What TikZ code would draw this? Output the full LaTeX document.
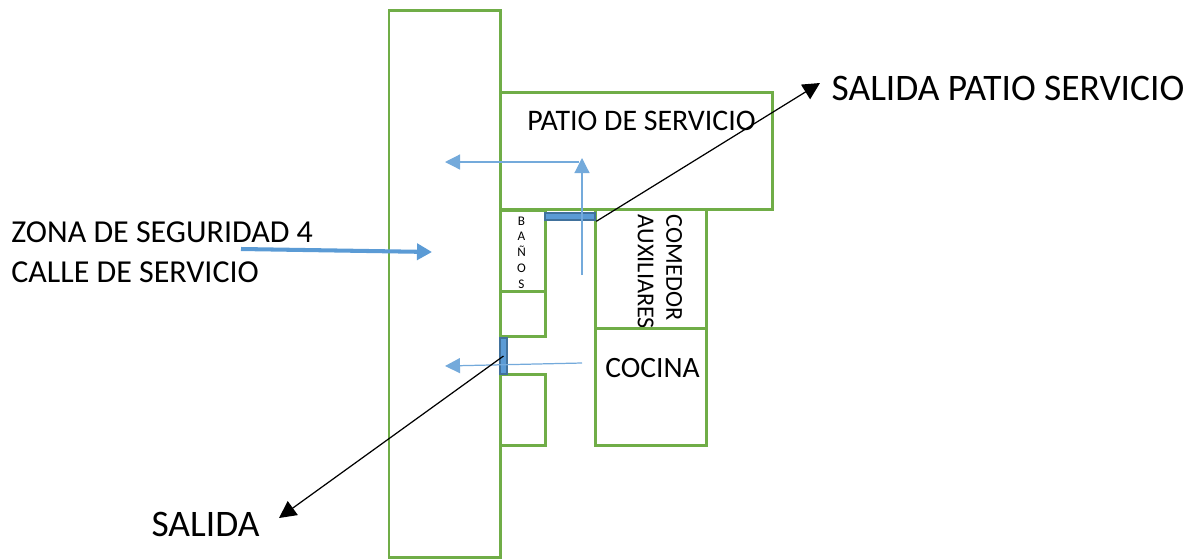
\documentclass[tikz,border=0pt]{standalone}
\usepackage{fontspec}
\setmainfont{Carlito}
\usetikzlibrary{positioning,arrows.meta}

\definecolor{zonagreen}{HTML}{70AD47}
\definecolor{flechablue}{HTML}{5B9BD5}
\definecolor{puertablue}{HTML}{41719C}

\tikzset{
	zona/.style={draw=zonagreen, line width=1.7pt, inner sep=0pt},
	puerta/.style={draw=puertablue, fill=flechablue, line width=1.5pt, inner sep=0pt},
	flecha/.style={draw=flechablue!85!white, line width=0.7pt, -{Triangle[length=0.3cm,width=0.3cm]}},
	salida/.style={draw=black, line width=0.7pt, -{Triangle[length=0.34cm,width=0.34cm]}},
	texto/.style={inner sep=0pt, font=\fontsize{17}{20}\selectfont},
	textogrande/.style={inner sep=0pt, font=\fontsize{21.3}{25}\selectfont}
}

\begin{document}
\begin{tikzpicture}

\useasboundingbox (0, 0) rectangle (23.82, -11.16);

% Calle de servicio
\node [zona, minimum width=2.22cm, minimum height=10.95cm] (calle) at (8.89, -5.675) {};

% Patio de servicio
\node [zona, minimum width=5.44cm, minimum height=2.34cm] (patio) at (12.72, -3.01) {};
\node [texto] (patio_texto) at (12.83, -2.42) {PATIO DE SERVICIO};

% Banos
\node [zona, minimum width=0.9cm, minimum height=1.62cm] (banos) at (10.45, -5.01) {};
\node [inner sep=0pt, align=center, font=\fontsize{7.5}{9}\selectfont] (banos_texto) at (10.43, -5.05) {
B\\
A\\
Ñ\\
O\\
S
};

% Cuartos chicos
\node [zona, minimum width=0.9cm, minimum height=0.9cm] (cuarto_a) at (10.45, -6.27) {};
\node [zona, minimum width=0.9cm, minimum height=1.42cm] (cuarto_b) at (10.45, -8.19) {};

% Comedor auxiliares
\node [zona, minimum width=2.22cm, minimum height=2.38cm] (comedor) at (13.01, -5.37) {};
\node [texto, rotate=-90, align=left, font=\fontsize{13.8}{16.2}\selectfont] (comedor_texto) at (13.2, -5.44) {
COMEDOR\\
AUXILIARES
};

% Cocina
\node [zona, minimum width=2.22cm, minimum height=2.34cm] (cocina) at (13.01, -7.73) {};
\node [texto, font=\fontsize{16.8}{20}\selectfont] (cocina_texto) at (13.05, -7.36) {COCINA};

% Puertas
\node [puerta, minimum width=1cm, minimum height=0.14cm] (puerta_patio) at (11.4, -4.33) {};
\node [puerta, minimum width=0.14cm, minimum height=0.72cm] (puerta_salida) at (10.07, -7.12) {};

% Textos de afuera
\node [texto, align=left, anchor=west, font=\fontsize{18.2}{22.7}\selectfont] (zona_texto) at (0.22, -5.04) {
ZONA DE SEGURIDAD 4\\
CALLE DE SERVICIO
};
\node [textogrande] (salida_patio) at (20.16, -1.76) {SALIDA PATIO SERVICIO};
\node [textogrande] (salida_texto) at (4.11, -10.48) {SALIDA};

% Puntos de las flechas
\coordinate (patio_a) at (11.58, -3.24);
\coordinate (patio_b) at (8.9, -3.24);
\coordinate (subida_a) at (11.64, -5.5);
\coordinate (subida_b) at (11.64, -3.16);
\coordinate (cocina_a) at (11.64, -7.26);
\coordinate (cocina_b) at (8.9, -7.32);
\coordinate (zona_a) at (4.82, -4.98);
\coordinate (zona_b) at (8.64, -5.04);
\coordinate (patio_tip) at (16.4, -1.66);
\coordinate (salida_tip) at (5.58, -10.36);

% Flechas
\draw[flecha] (patio_a) -- (patio_b);
\draw[flecha] (subida_a) -- (subida_b);
\draw[flecha] (cocina_a) -- (cocina_b);
\draw[flechablue, line width=2.3pt, -{Triangle[length=0.3cm,width=0.32cm]}] (zona_a) -- (zona_b);

\draw[salida] (puerta_patio.south east) -- (patio_tip);
\draw[salida] (puerta_salida.center) -- (salida_tip);

\end{tikzpicture}
\end{document}
